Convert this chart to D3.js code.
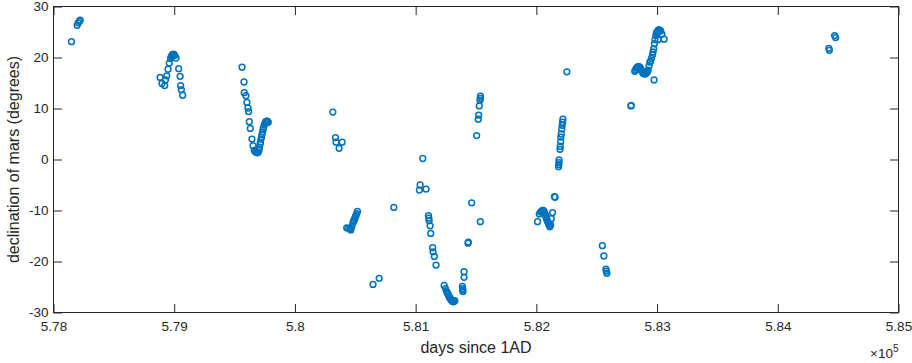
<!DOCTYPE html>
<html>
<head>
<meta charset="utf-8">
<script src="https://cdn.jsdelivr.net/npm/d3@7"></script>
<style>
  html, body { margin: 0; padding: 0; background: #fff; }
  svg { display: block; }
  text { font-family: "Liberation Sans", Arial, Helvetica, sans-serif; fill: #262626; }
</style>
</head>
<body>
<svg id="chart" width="912" height="363"></svg>
<script>
// ---- data ----
// days since 1AD, expressed as offset from 578000
const dayOffsets = [
  149, 196, 205, 215, 221,
  883, 899, 921, 927, 938, 949, 959, 970, 976, 982, 987, 993, 998, 1004, 1015, 1037, 1049, 1053, 1059, 1070,
  1562, 1578, 1580, 1594, 1602, 1611, 1616, 1622, 1630, 1644, 1653, 1663, 1671, 1679, 1688, 1696, 1702, 1707, 1711, 1715, 1719, 1723, 1727, 1732, 1736, 1740, 1746, 1752, 1758, 1765, 1772, 1779,
  2314, 2336, 2341, 2391, 2366,
  2429, 2443, 2457, 2463, 2471, 2480, 2486, 2491, 2497, 2502, 2507, 2512, 2518,
  2647, 2698,
  2819,
  3031, 3037, 3059, 3086,
  3106, 3109, 3112, 3120, 3125, 3141, 3144, 3155, 3169,
  3236, 3247, 3257, 3262, 3268, 3274, 3279, 3285, 3291, 3296, 3301, 3307, 3312, 3318, 3324,
  3387, 3389, 3390, 3392, 3401, 3401, 3434, 3436, 3464, 3536,
  3505, 3519, 3522, 3527, 3533, 3536, 3537,
  4010, 4024, 4034, 4044, 4051, 4057, 4064, 4071, 4076, 4080, 4085, 4090, 4096, 4101, 4106, 4112, 4118, 4124, 4134, 4150, 4155,
  4184, 4186, 4187, 4188, 4196, 4198, 4201, 4203, 4206, 4210, 4214, 4217, 4220, 4253,
  4547, 4559, 4576, 4580, 4584,
  4783, 4786, 4815, 4822, 4829, 4836, 4842, 4849, 4857, 4864, 4871, 4878, 4884, 4892, 4899, 4906, 4913, 4920, 4926, 4934, 4940, 4946, 4953, 4962, 4967, 4972, 4975, 4978, 4983, 4989, 4995, 5000, 5006, 5009, 5012, 5018, 5023, 5030, 5040, 5058,
  6423, 6427, 6471, 6479
];
const declination = [
  23.1, 26.3, 26.8, 27.1, 27.3,
  16.1, 14.9, 14.5, 15.6, 16.4, 17.7, 18.9, 19.8, 20.2, 20.4, 20.6, 20.6, 20.6, 20.4, 19.9, 17.8, 16.3, 14.5, 13.7, 12.6,
  18.1, 15.2, 13.1, 12.5, 11.2, 10.1, 9.4, 7.4, 6.1, 4.0, 2.7, 1.8, 1.5, 1.4, 1.3, 1.4, 1.8, 2.4, 3.0, 3.4, 4.0, 4.4, 4.9, 5.4, 5.9, 6.3, 6.8, 7.1, 7.4, 7.5, 7.5, 7.3,
  9.3, 4.3, 3.4, 3.4, 2.2,
  -13.4, -13.5, -13.6, -13.8, -13.2, -12.5, -12.1, -11.9, -11.5, -11.2, -10.9, -10.6, -10.2,
  -24.5, -23.3,
  -9.4,
  -6.0, -5.0, 0.2, -5.8,
  -11.0, -11.5, -12.0, -13.0, -14.5, -17.3, -18.1, -19.0, -20.7,
  -24.7, -25.3, -25.9, -26.1, -26.4, -26.7, -27.0, -27.2, -27.4, -27.6, -27.7, -27.8, -27.9, -27.8, -27.7,
  -24.9, -25.3, -25.6, -25.9, -22.0, -23.1, -16.4, -16.2, -8.5, -12.2,
  4.7, 7.9, 8.7, 10.5, 11.6, 12.0, 12.4,
  -12.2, -10.7, -10.3, -10.2, -10.0, -10.0, -10.2, -10.6, -10.9, -11.3, -11.6, -12.0, -12.3, -12.6, -12.9, -13.2, -12.8, -11.6, -10.4, -7.3, -7.4,
  -1.4, -1.0, -0.6, -0.1, 2.0, 2.6, 3.5, 4.4, 5.0, 6.0, 6.7, 7.3, 7.9, 17.2,
  -16.9, -18.9, -21.5, -21.9, -22.3,
  10.5, 10.6, 17.3, 17.6, 17.9, 18.1, 18.2, 18.2, 18.1, 17.8, 17.4, 17.2, 16.9, 16.8, 16.8, 16.8, 17.0, 17.2, 17.5, 18.4, 19.1, 19.2, 19.8, 20.5, 21.1, 21.7, 15.6, 22.7, 23.5, 24.3, 24.8, 25.0, 25.2, 23.5, 25.4, 25.4, 25.3, 25.2, 24.6, 23.6,
  21.8, 21.4, 24.3, 23.9
];
const dayBase = 578000;
const xTicks = [578000, 579000, 580000, 581000, 582000, 583000, 584000, 585000];
const xTickLabels = ["5.78", "5.79", "5.8", "5.81", "5.82", "5.83", "5.84", "5.85"];
const yTicks = [-30, -20, -10, 0, 10, 20, 30];
const yTickLabels = ["-30", "-20", "-10", "0", "10", "20", "30"];
const xLabel = "days since 1AD";
const yLabel = "declination of mars (degrees)";

// ---- drawing ----
const svg = d3.select("#chart");
const L = 53.5, R = 898.5, T = 6.5, B = 312.5;
const x = d3.scaleLinear().domain([578000, 585000]).range([L, R]);
const y = d3.scaleLinear().domain([-30, 30]).range([B, T]);
const axisColor = "#262626";
const tickLen = 8.5;
const tickFont = "13.5px";
const labelFont = "16px";

const points = dayOffsets.map((d, i) => ({ day: dayBase + d, dec: declination[i] }));

// markers
svg.append("g").selectAll("circle").data(points).join("circle")
  .attr("cx", d => x(d.day))
  .attr("cy", d => y(d.dec))
  .attr("r", 2.9)
  .attr("fill", "none")
  .attr("stroke", "#0072BD")
  .attr("stroke-width", 1.5);

// axes (MATLAB-like box with inward ticks)
function styleAxis(g) {
  g.select(".domain").remove();
  g.selectAll(".tick line").attr("stroke", axisColor).attr("stroke-width", 1);
  g.selectAll(".tick text").attr("fill", axisColor)
    .style("font-family", '"Liberation Sans", Arial, Helvetica, sans-serif')
    .style("font-size", tickFont);
}
const xAxisB = d3.axisBottom(x).tickValues(xTicks).tickFormat((d, i) => xTickLabels[i])
  .tickSizeInner(-tickLen).tickSizeOuter(0).tickPadding(9);
svg.append("g").attr("transform", `translate(0,${B})`).call(xAxisB).call(styleAxis);
const xAxisT = d3.axisTop(x).tickValues(xTicks).tickFormat("")
  .tickSizeInner(-tickLen).tickSizeOuter(0);
svg.append("g").attr("transform", `translate(0,${T})`).call(xAxisT).call(styleAxis);
const yAxisL = d3.axisLeft(y).tickValues(yTicks).tickFormat((d, i) => yTickLabels[i])
  .tickSizeInner(-tickLen).tickSizeOuter(0).tickPadding(5);
svg.append("g").attr("transform", `translate(${L},0)`).call(yAxisL).call(styleAxis);
const yAxisR = d3.axisRight(y).tickValues(yTicks).tickFormat("")
  .tickSizeInner(-tickLen).tickSizeOuter(0);
svg.append("g").attr("transform", `translate(${R},0)`).call(yAxisR).call(styleAxis);

// box
svg.append("rect").attr("x", L).attr("y", T).attr("width", R - L).attr("height", B - T)
  .attr("fill", "none").attr("stroke", axisColor).attr("stroke-width", 1);

// labels
svg.append("text").attr("x", (L + R) / 2).attr("y", 353).attr("text-anchor", "middle")
  .style("font-size", labelFont).text(xLabel);
svg.append("text").attr("transform", `translate(19,${(T + B) / 2}) rotate(-90)`)
  .attr("text-anchor", "middle").style("font-size", labelFont).text(yLabel);

// exponent
const ex = svg.append("text").attr("x", R).attr("y", 358).attr("text-anchor", "end")
  .style("font-size", tickFont);
ex.append("tspan").text("×10");
ex.append("tspan").attr("dy", -6).style("font-size", "10px").text("5");
</script>
</body>
</html>
